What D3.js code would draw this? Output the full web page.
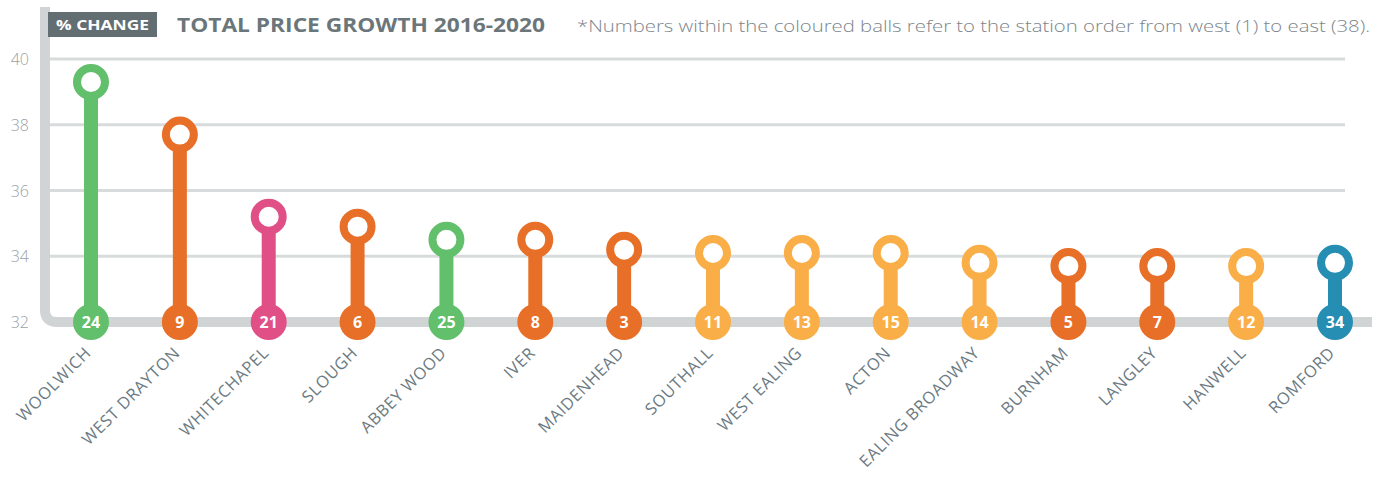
<!DOCTYPE html>
<html>
<head>
<meta charset="utf-8">
<script src="https://cdn.jsdelivr.net/npm/d3@7"></script>
<style>
  body { margin: 0; background: #fff; }
  svg { display: block; font-family: "Open Sans", sans-serif; }
</style>
</head>
<body>
<div id="chart"></div>
<script>
// data
var stations = ["WOOLWICH", "WEST DRAYTON", "WHITECHAPEL", "SLOUGH", "ABBEY WOOD", "IVER",
  "MAIDENHEAD", "SOUTHALL", "WEST EALING", "ACTON", "EALING BROADWAY", "BURNHAM",
  "LANGLEY", "HANWELL", "ROMFORD"];
var growth = [39.3, 37.7, 35.2, 34.9, 34.5, 34.5, 34.2, 34.1, 34.1, 34.1, 33.8, 33.7, 33.7, 33.7, 33.8];
var order = [24, 9, 21, 6, 25, 8, 3, 11, 13, 15, 14, 5, 7, 12, 34];
var line = ["green", "orange", "pink", "orange", "green", "orange", "orange", "yellow",
  "yellow", "yellow", "yellow", "orange", "orange", "yellow", "blue"];
var yTicks = [32, 34, 36, 38, 40];

var width = 1389, height = 477;

var color = d3.scaleOrdinal()
    .domain(["green", "orange", "pink", "yellow", "blue"])
    .range(["#62bf6b", "#e86f27", "#e05086", "#f9ae48", "#268db3"]);

var x = d3.scalePoint()
    .domain(stations)
    .range([91, 1335]);

var y = d3.scaleLinear()
    .domain([32, 40])
    .range([322, 59]);

var svg = d3.select("#chart")
    .append("svg")
    .attr("width", width)
    .attr("height", height);

// grid lines
svg.append("g")
    .selectAll("line")
    .data(yTicks.slice(1))
    .enter()
    .append("line")
    .attr("x1", 50)
    .attr("x2", 1345)
    .attr("y1", function(d) { return y(d); })
    .attr("y2", function(d) { return y(d); })
    .attr("stroke", "#d8dbdc")
    .attr("stroke-width", 3);

// y labels
svg.append("g")
    .selectAll("text")
    .data(yTicks)
    .enter()
    .append("text")
    .attr("x", 29)
    .attr("y", function(d) { return y(d) + 6; })
    .attr("text-anchor", "end")
    .attr("font-size", 16)
    .attr("font-weight", 300)
    .attr("fill", "#9ba2a6")
    .text(function(d) { return d; });

// axis frame, like a track with a rounded corner
svg.append("path")
    .attr("d", "M45,7 V" + (y(32) - 12) + " Q45," + y(32) + " 57," + y(32) + " H1372")
    .attr("fill", "none")
    .attr("stroke", "#d0d4d5")
    .attr("stroke-width", 10);

var pins = svg.append("g")
    .selectAll("g")
    .data(stations)
    .enter()
    .append("g");

// stems
pins.append("line")
    .attr("x1", function(d) { return x(d); })
    .attr("x2", function(d) { return x(d); })
    .attr("y1", y(32))
    .attr("y2", function(d, i) { return y(growth[i]); })
    .attr("stroke", function(d, i) { return color(line[i]); })
    .attr("stroke-width", 14);

// top rings
pins.append("circle")
    .attr("cx", function(d) { return x(d); })
    .attr("cy", function(d, i) { return y(growth[i]); })
    .attr("r", 14)
    .attr("fill", "#fff")
    .attr("stroke", function(d, i) { return color(line[i]); })
    .attr("stroke-width", 8);

// bottom balls with station order
pins.append("circle")
    .attr("cx", function(d) { return x(d); })
    .attr("cy", y(32))
    .attr("r", 18)
    .attr("fill", function(d, i) { return color(line[i]); });

pins.append("text")
    .attr("x", function(d) { return x(d); })
    .attr("y", y(32) + 5.5)
    .attr("text-anchor", "middle")
    .attr("font-size", 16)
    .attr("font-weight", 700)
    .attr("fill", "#fff")
    .text(function(d, i) { return order[i]; });

// station names
pins.append("text")
    .attr("transform", function(d) { return "translate(" + (x(d) + 1) + ",354) rotate(-45)"; })
    .attr("text-anchor", "end")
    .attr("font-size", 16.5)
    .attr("letter-spacing", 0.6)
    .attr("fill", "#6b7a82")
    .text(function(d) { return d; });

// header
svg.append("rect")
    .attr("x", 48)
    .attr("y", 12)
    .attr("width", 109)
    .attr("height", 25)
    .attr("fill", "#636e73");

svg.append("text")
    .attr("x", 102.5)
    .attr("y", 30)
    .attr("text-anchor", "middle")
    .attr("font-size", 14.5)
    .attr("font-weight", 700)
    .attr("fill", "#fff")
    .attr("textLength", 93)
    .attr("lengthAdjust", "spacingAndGlyphs")
    .text("% CHANGE");

svg.append("text")
    .attr("x", 177)
    .attr("y", 32)
    .attr("font-size", 19)
    .attr("font-weight", 700)
    .attr("fill", "#6b767b")
    .attr("textLength", 368)
    .attr("lengthAdjust", "spacingAndGlyphs")
    .text("TOTAL PRICE GROWTH 2016-2020");

svg.append("text")
    .attr("x", 577)
    .attr("y", 32)
    .attr("font-size", 16)
    .attr("font-weight", 300)
    .attr("fill", "#7c868c")
    .attr("textLength", 793)
    .attr("lengthAdjust", "spacingAndGlyphs")
    .text("*Numbers within the coloured balls refer to the station order from west (1) to east (38).");
</script>
</body>
</html>
